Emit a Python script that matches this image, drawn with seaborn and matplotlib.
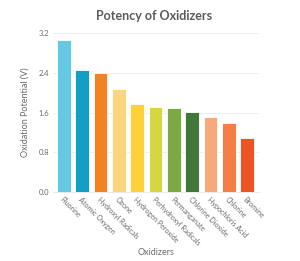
import pandas as pd
import matplotlib.pyplot as plt
import seaborn as sns

oxidizers = ['Fluorine', 'Atomic Oxygen', 'Hydroxyl Radicals', 'Ozone', 'Hydrogen Peroxide',
             'Perhydroxyl Radicals', 'Permanganate', 'Chlorine Dioxide', 'Hypochloris Acid',
             'Chlorine', 'Bromine']
potential = [3.06, 2.45, 2.40, 2.07, 1.77, 1.71, 1.69, 1.61, 1.51, 1.38, 1.09]
bar_colors = ['#66C9E3', '#129FC4', '#F58220', '#FDD57E', '#FCD13A', '#D6D641',
              '#7BAA42', '#42773B', '#F7A97A', '#F47E48', '#EE5324']
y_ticks = [0.0, 0.8, 1.6, 2.4, 3.2]

sns.set_theme(style="white")
plt.rcParams['font.family'] = ['Lato', 'DejaVu Sans']
grey = '#6b6b6b'

df = pd.DataFrame({'oxidizer': oxidizers, 'potential': potential})

fig = plt.figure(figsize=(3.0, 2.61), dpi=100)
ax = fig.add_axes([53 / 300, 1 - 192 / 261, 206 / 300, 159 / 261])
sns.barplot(data=df, x='oxidizer', y='potential', hue='oxidizer',
            palette=dict(zip(oxidizers, bar_colors)), legend=False, saturation=1,
            width=0.75, edgecolor='white', linewidth=0.6, ax=ax)

ax.set_ylim(0, 3.2)
ax.set_xlim(-0.6, len(oxidizers) - 0.35)
ax.set_yticks(y_ticks)
ax.set_yticklabels([f'{v:.1f}' for v in y_ticks], fontsize=5.5, color=grey)
ax.yaxis.grid(True, color='#ececec', linewidth=0.6)
ax.set_axisbelow(True)
for s in ['top', 'right', 'left']:
    ax.spines[s].set_visible(False)
ax.spines['bottom'].set_color('#e6e6e6')
ax.spines['bottom'].set_linewidth(0.6)
ax.tick_params(axis='both', length=0, pad=3)

ax.set_xticks(range(len(oxidizers)))
ax.set_xticklabels(oxidizers, rotation=-45, ha='left', va='top',
                   rotation_mode='anchor', fontsize=5.1, color=grey)
ax.set_xlabel('Oxidizers', fontsize=6.5, color=grey, labelpad=1)
ax.set_ylabel('Oxidation Potential (V)', fontsize=6.5, color=grey, labelpad=6)
fig.text(0.515, 0.94, 'Potency of Oxidizers', ha='center', va='center',
         fontsize=9, fontweight='bold', color='#5a5a5a')

plt.savefig('out.png', dpi=100)
